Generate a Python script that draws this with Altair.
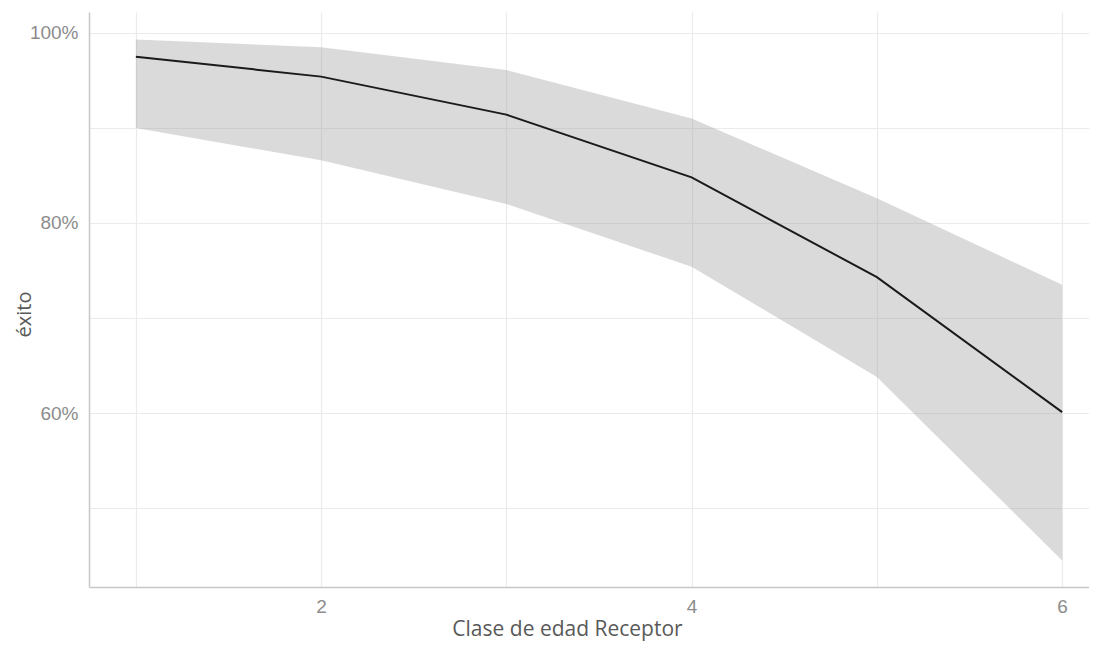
import altair as alt
import pandas as pd

clase = [1, 2, 3, 4, 5, 6]
exito = [0.975, 0.954, 0.914, 0.848, 0.743, 0.601]
upper = [0.993, 0.985, 0.961, 0.910, 0.826, 0.735]
lower = [0.900, 0.866, 0.820, 0.754, 0.638, 0.445]

df = pd.DataFrame({"clase": clase, "exito": exito, "upper": upper, "lower": lower})

x_scale = alt.Scale(domain=[0.747, 6.145], nice=False, zero=False)
y_scale = alt.Scale(domain=[0.417, 1.022], nice=False, zero=False)

x_axis = alt.Axis(
    values=[1, 2, 3, 4, 5, 6],
    format="d",
    labelExpr="datum.value % 2 == 0 ? datum.label : ''",
    title="Clase de edad Receptor",
    titleX=478, titleY=48, titleAlign="center", titleBaseline="alphabetic",
    titleFont="Open Sans", titleFontSize=21, titleFontWeight="normal", titleColor="#595959",
    labelFont="Liberation Sans", labelFontSize=19, labelColor="#8c8c8c", labelPadding=10,
    ticks=False, grid=True, gridColor="#ebebeb", gridWidth=1.2,
    domainColor="#c8c8c8", domainWidth=1.5,
)
y_axis = alt.Axis(
    values=[0.5, 0.6, 0.7, 0.8, 0.9, 1.0],
    labelExpr="indexof([60, 80, 100], round(datum.value * 100)) >= 0 ? format(datum.value, '.0%') : ''",
    title="éxito",
    titleX=-59, titleY=302, titleAngle=-90, titleAlign="center", titleBaseline="alphabetic",
    titleFont="Open Sans", titleFontSize=20, titleFontWeight="normal", titleColor="#595959",
    labelFont="Liberation Sans", labelFontSize=19, labelColor="#8c8c8c", labelPadding=11,
    ticks=False, grid=True, gridColor="#ebebeb", gridWidth=1.2,
    domainColor="#c8c8c8", domainWidth=1.5,
)

band = alt.Chart(df).mark_area(color="#999999", opacity=0.36).encode(
    x=alt.X("clase:Q", scale=x_scale, axis=x_axis),
    y=alt.Y("lower:Q", scale=y_scale, axis=y_axis),
    y2="upper:Q",
)
line = alt.Chart(df).mark_line(color="#1a1a1a", strokeWidth=2).encode(
    x=alt.X("clase:Q", scale=x_scale),
    y=alt.Y("exito:Q", scale=y_scale),
)

chart = (band + line).properties(
    width=1000, height=575,
    autosize=alt.AutoSizeParams(type="none"),
    padding={"left": 81, "top": 4, "right": 0, "bottom": 57},
).configure_view(stroke=None)

chart.save("out.html", embed_options={"renderer": "svg", "actions": False})
